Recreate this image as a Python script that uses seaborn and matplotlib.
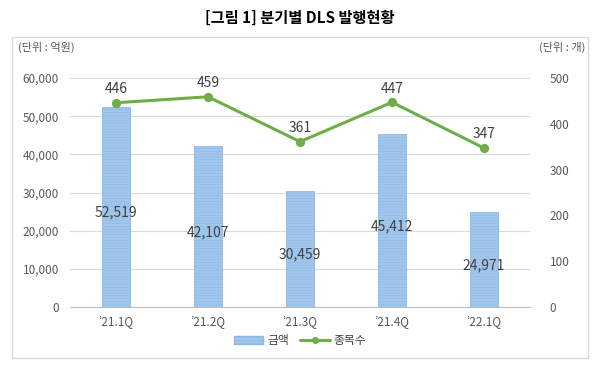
import pandas as pd
import numpy as np
import matplotlib
matplotlib.use("Agg")
import matplotlib.pyplot as plt
from matplotlib.patches import Patch, Rectangle
from matplotlib.lines import Line2D
from matplotlib.ticker import FuncFormatter
import seaborn as sns

# Data
quarters = ["\u201921.1Q", "\u201921.2Q", "\u201921.3Q", "\u201921.4Q", "\u201922.1Q"]
amount = [52519, 42107, 30459, 45412, 24971]   # 억원
count = [446, 459, 361, 447, 347]              # 개

df = pd.DataFrame({"quarter": quarters, "amount": amount, "count": count})

sns.set_style("white")
plt.rcParams["font.family"] = ["Noto Sans CJK KR", "DejaVu Sans"]
plt.rcParams["hatch.linewidth"] = 0.4

bar_color = "#a2c7ec"
bar_edge = "#8bb9e6"
line_color = "#70ad47"
text_color = "#404040"
tick_color = "#595959"

fig = plt.figure(figsize=(6, 3.72), dpi=100)
ax = fig.add_axes([0.1167, 0.1747, 0.7667, 0.6156])

sns.barplot(data=df, x="quarter", y="amount", ax=ax, color=bar_color,
            width=0.3, saturation=1, edgecolor=bar_edge, linewidth=0.6,
            hatch="------")
ax.set_ylim(0, 60000)
ax.set_yticks(np.arange(0, 60001, 10000))
ax.yaxis.set_major_formatter(FuncFormatter(lambda v, p: f"{int(v):,}"))
ax.grid(axis="y", color="#d9d9d9", linewidth=0.8)
ax.set_axisbelow(True)
ax.set_xlabel("")
ax.set_ylabel("")

for i, v in enumerate(amount):
    ax.text(i, v / 2 - 1500, f"{v:,}", ha="center", va="center",
            fontsize=10, color=text_color)

ax2 = ax.twinx()
sns.pointplot(data=df, x="quarter", y="count", ax=ax2, color=line_color,
              markers="o", markersize=5, linewidth=2.2)
ax2.set_ylim(0, 500)
ax2.set_yticks(np.arange(0, 501, 100))
ax2.set_xlim(-0.5, len(quarters) - 0.5)
ax2.set_ylabel("")
ax2.set_xlabel("")
for i, v in enumerate(count):
    ax2.text(i, v + 30, str(v), ha="center", va="center",
             fontsize=10, color=text_color)

for a in (ax, ax2):
    for s in a.spines.values():
        s.set_visible(False)
    a.tick_params(axis="both", length=0, labelsize=8.5, colors=tick_color)
ax.spines["bottom"].set_visible(True)
ax.spines["bottom"].set_color("#bfbfbf")
ax.tick_params(axis="y", pad=8)
ax2.tick_params(axis="y", pad=14)
ax.tick_params(axis="x", pad=6)

# title, units, frame
fig.text(0.5, 0.952, "[그림 1] 분기별 DLS 발행현황", ha="center", va="center",
         fontsize=11, fontweight="bold", color="#000000")
fig.text(0.03, 0.873, "(단위 : 억원)", ha="left", va="center", fontsize=8, color=tick_color)
fig.text(0.975, 0.873, "(단위 : 개)", ha="right", va="center", fontsize=8, color=tick_color)
fig.patches.append(Rectangle((0.02, 0.0376), 0.96, 0.863, transform=fig.transFigure,
                             fill=False, edgecolor="#d9d9d9", linewidth=1))

handles = [Patch(facecolor=bar_color, edgecolor=bar_edge, hatch="------", label="금액"),
           Line2D([0], [0], color=line_color, lw=2.2, marker="o", markersize=4, label="종목수")]
fig.legend(handles=handles, loc="center", bbox_to_anchor=(0.5, 0.085), ncol=2,
           frameon=False, fontsize=8.5, handlelength=2.5, columnspacing=1.0,
           handletextpad=0.3, labelcolor=text_color)

fig.savefig("out.png", dpi=100)
